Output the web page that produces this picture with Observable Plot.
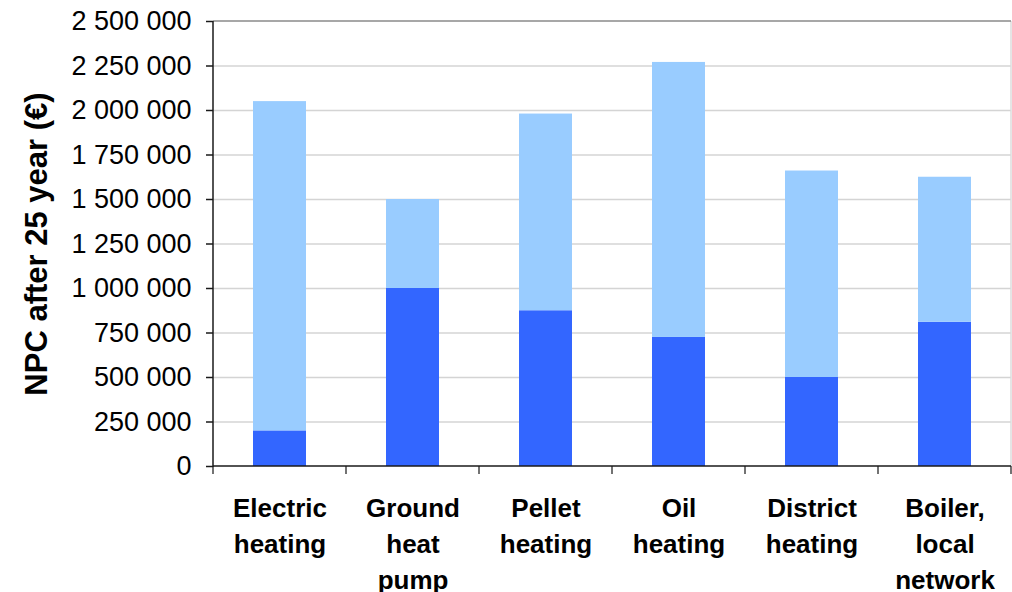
<!DOCTYPE html>
<html>
<head>
<meta charset="utf-8">
<script src="https://cdn.jsdelivr.net/npm/d3@7"></script>
<script src="https://cdn.jsdelivr.net/npm/@observablehq/plot@0.6"></script>
<style>
  html, body { margin: 0; padding: 0; background: #fff; }
  #chart svg { display: block; }
</style>
</head>
<body>
<div id="chart"></div>
<script>
// Heating systems compared by net present cost over 25 years
const categories = ["Electric heating", "Ground heat pump", "Pellet heating", "Oil heating", "District heating", "Boiler, local network"];
const investmentCost = [200000, 1000000, 875000, 725000, 500000, 810000];
const operatingCost = [1850000, 500000, 1105000, 1545000, 1160000, 815000];
const seriesNames = ["Investment", "Operating"];
const seriesColors = ["#3366FF", "#99CCFF"];
const yTicks = [0, 250000, 500000, 750000, 1000000, 1250000, 1500000, 1750000, 2000000, 2250000, 2500000];
const yTitle = "NPC after 25 year (€)";

const rows = categories.flatMap((c, i) => [
  {category: c, series: seriesNames[0], value: investmentCost[i]},
  {category: c, series: seriesNames[1], value: operatingCost[i]}
]);

const fmt = (d) => d3.format(",")(d).replace(/,/g, " ");

// Plot-area border, axis lines and the separator ticks between categories
function plotAreaLines(index, scales, values, dimensions) {
  const {width, marginLeft, marginRight} = dimensions;
  const x = scales.x;
  const bw = typeof x.bandwidth === "function" ? x.bandwidth() : scales.scales.x.bandwidth;
  const step = typeof x.step === "function" ? x.step() : scales.scales.x.step;
  const gap = (step - bw) / 2;
  const y0 = scales.y(yTicks[0]);
  const yTop = scales.y(yTicks[yTicks.length - 1]);
  const left = marginLeft, right = width - marginRight;
  const g = d3.create("svg:g");
  g.append("line").attr("x1", right).attr("x2", right).attr("y1", yTop).attr("y2", y0)
    .attr("stroke", "#dcdcdc").attr("stroke-width", 1.5);
  g.append("line").attr("x1", left).attr("x2", right).attr("y1", yTop).attr("y2", yTop)
    .attr("stroke", "#8a8a8a").attr("stroke-width", 1.5);
  const bounds = categories.map((c) => x(c) - gap).concat(x(categories[categories.length - 1]) + bw + gap);
  g.selectAll(null).data(bounds).join("line")
    .attr("x1", (d) => d).attr("x2", (d) => d)
    .attr("y1", y0).attr("y2", y0 + 8)
    .attr("stroke", "#444").attr("stroke-width", 1.5);
  g.append("line").attr("x1", left).attr("x2", left).attr("y1", yTop).attr("y2", y0 + 1)
    .attr("stroke", "#1a1a1a").attr("stroke-width", 1.5);
  g.append("line").attr("x1", left).attr("x2", right).attr("y1", y0).attr("y2", y0)
    .attr("stroke", "#1a1a1a").attr("stroke-width", 1.5);
  return g.node();
}

const chart = Plot.plot({
  width: 1012,
  height: 592,
  marginTop: 21,
  marginRight: 1,
  marginBottom: 126,
  marginLeft: 213,
  style: {fontFamily: "'Liberation Sans', Arial, sans-serif", fontSize: "27px", color: "#000", background: "#fff"},
  x: {domain: categories, paddingInner: 0.6, paddingOuter: 0.3, label: null},
  y: {domain: [0, 2500000], label: null},
  color: {domain: seriesNames, range: seriesColors},
  marks: [
    Plot.ruleY(yTicks.slice(1, -1), {stroke: "#d4d4d4", strokeWidth: 1.5}),
    Plot.barY(rows, {x: "category", y: "value", fill: "series"}),
    plotAreaLines,
    Plot.axisY({
      ticks: yTicks, tickFormat: fmt, tickSize: 7, tickPadding: 15,
      label: null, stroke: "#1a1a1a", strokeWidth: 1.5, fontSize: 27
    }),
    Plot.axisX({
      tickSize: 0, tickPadding: 25, label: null, fontSize: 26, fontWeight: "bold",
      lineHeight: 36 / 26, tickFormat: (d) => d.replace(/ /g, "\n")
    }),
    Plot.text([yTitle], {
      frameAnchor: "left", textAnchor: "middle", rotate: -90, dx: -176,
      fontSize: 31, fontWeight: "bold", fill: "#000"
    })
  ]
});

document.getElementById("chart").appendChild(chart);
</script>
</body>
</html>
